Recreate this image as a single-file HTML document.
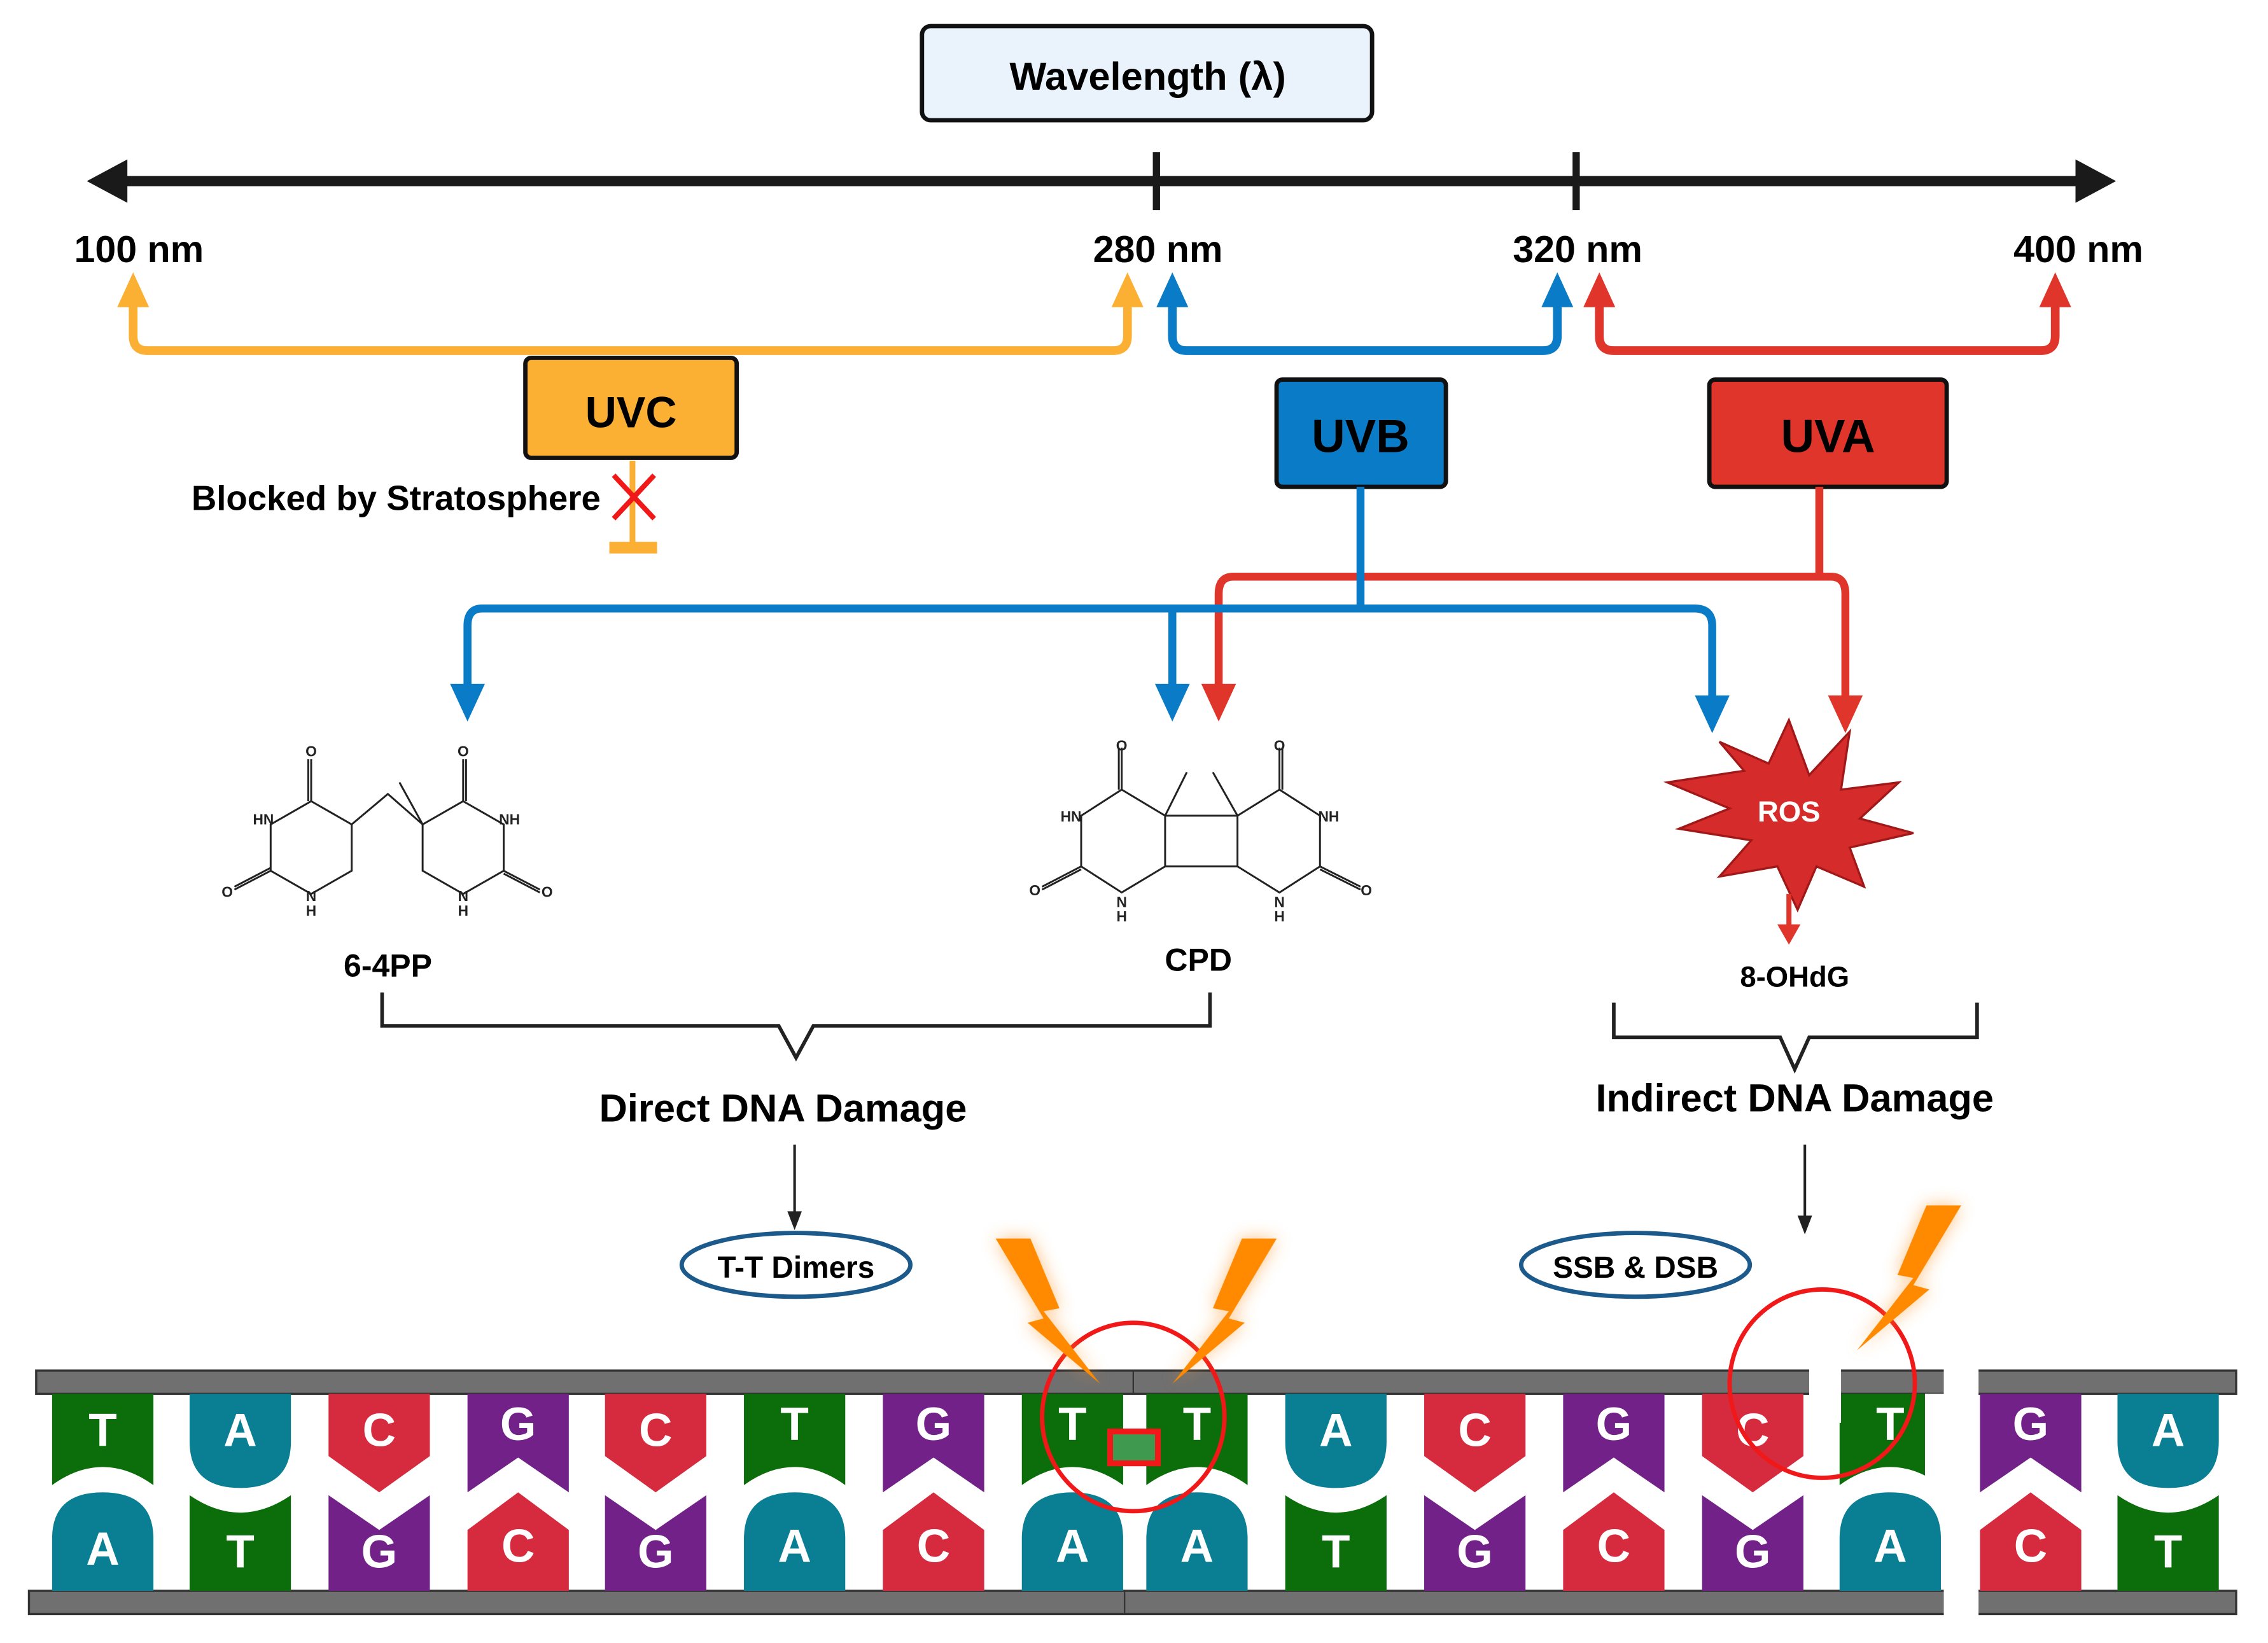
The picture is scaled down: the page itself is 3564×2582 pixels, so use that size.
<!DOCTYPE html>
<html><head><meta charset="utf-8"><style>
html,body{margin:0;padding:0;background:#fff}
svg{display:block}
text{font-family:"Liberation Sans",sans-serif;font-weight:bold}
</style></head><body>
<svg width="3564" height="2582" viewBox="0 0 1567 1134" preserveAspectRatio="none" xmlns="http://www.w3.org/2000/svg">
<defs>
<path id="tT" d="M-35,962H35V1025Q0,1000 -35,1025Z"/>
<path id="tA" d="M-35,962H35V995Q35,1027 0,1027Q-35,1027 -35,995Z"/>
<path id="tC" d="M-35,962H35V1005L0,1030L-35,1005Z"/>
<path id="tG" d="M-35,962H35V1030L0,1006L-35,1030Z"/>
<path id="bA" d="M-35,1098V1062Q-35,1030 0,1030Q35,1030 35,1062V1098Z"/>
<path id="bT" d="M-35,1098V1032Q0,1056 35,1032V1098Z"/>
<path id="bG" d="M-35,1098V1032L0,1056L35,1032V1098Z"/>
<path id="bC" d="M-35,1098V1056L0,1030L35,1056V1098Z"/>
<path id="bolt" d="M0,0L24,0L44,48L33,50L72,100L22,58L33,55Z"/>
<filter id="glow" x="-50%" y="-50%" width="200%" height="200%"><feGaussianBlur stdDeviation="6"/></filter>
</defs>

<rect x="637" y="18" width="311" height="65" rx="6" fill="#eaf3fb" stroke="#111" stroke-width="3"/>
<text x="793" y="62" font-size="27" text-anchor="middle">Wavelength (λ)</text>

<line x1="80" y1="125" x2="1440" y2="125" stroke="#1a1a1a" stroke-width="7"/>
<polygon points="60,125 88,110 88,140" fill="#1a1a1a"/>
<polygon points="1462,125 1434,110 1434,140" fill="#1a1a1a"/>
<line x1="799" y1="105" x2="799" y2="145" stroke="#1a1a1a" stroke-width="5"/>
<line x1="1089" y1="105" x2="1089" y2="145" stroke="#1a1a1a" stroke-width="5"/>
<g font-size="26" text-anchor="middle">
<text x="96" y="181">100 nm</text>
<text x="800" y="181">280 nm</text>
<text x="1090" y="181">320 nm</text>
<text x="1436" y="181">400 nm</text>
</g>

<path d="M92,206V232Q92,242 102,242H769Q779,242 779,232V206" fill="none" stroke="#fbb034" stroke-width="6"/>
<polygon points="92,188 81,212 103,212" fill="#fbb034"/>
<polygon points="779,188 768,212 790,212" fill="#fbb034"/>
<path d="M810,206V232Q810,242 820,242H1066Q1076,242 1076,232V206" fill="none" stroke="#0a7bc6" stroke-width="6"/>
<polygon points="810,188 799,212 821,212" fill="#0a7bc6"/>
<polygon points="1076,188 1065,212 1087,212" fill="#0a7bc6"/>
<path d="M1105,206V232Q1105,242 1115,242H1410Q1420,242 1420,232V206" fill="none" stroke="#e0352b" stroke-width="6"/>
<polygon points="1105,188 1094,212 1116,212" fill="#e0352b"/>
<polygon points="1420,188 1409,212 1431,212" fill="#e0352b"/>

<rect x="363" y="247" width="146" height="69" rx="4" fill="#fbb034" stroke="#111" stroke-width="3"/>
<text x="436" y="295" font-size="30" text-anchor="middle">UVC</text>
<rect x="882" y="262" width="117" height="74" rx="4" fill="#0a7bc6" stroke="#111" stroke-width="3"/>
<text x="940" y="312" font-size="32" text-anchor="middle">UVB</text>
<rect x="1181" y="262" width="164" height="74" rx="4" fill="#e0352b" stroke="#111" stroke-width="3"/>
<text x="1263" y="312" font-size="32" text-anchor="middle">UVA</text>

<line x1="437" y1="318" x2="437" y2="376" stroke="#fbb034" stroke-width="4"/>
<rect x="421" y="374" width="33" height="8" fill="#fbb034"/>
<path d="M424,328L452,358M452,328L424,358" stroke="#f01818" stroke-width="3.5"/>
<text x="415" y="352" font-size="24" text-anchor="end">Blocked by Stratosphere</text>

<path d="M1257,336V398H852Q842,398 842,410V478M1257,398H1265Q1275,398 1275,410V485" fill="none" stroke="#e0352b" stroke-width="5.5"/>
<polygon points="842,498 830,472 854,472" fill="#e0352b"/>
<polygon points="1275,506 1263,480 1287,480" fill="#e0352b"/>
<path d="M940,336V420M333,420H1171Q1183,420 1183,432V485M333,420Q323,420 323,432V478M810,420V478" fill="none" stroke="#0a7bc6" stroke-width="5.5"/>
<polygon points="323,498 311,472 335,472" fill="#0a7bc6"/>
<polygon points="810,498 798,472 822,472" fill="#0a7bc6"/>
<polygon points="1183,506 1171,480 1195,480" fill="#0a7bc6"/>

<g fill="none" stroke="#222" stroke-width="1.3">
<path d="M215,553L243,569V601L215,617L187,601V569Z"/>
<path d="M320,553L348,569V601L320,617L292,601V569Z"/>
<path d="M215,553V524M213,553V524M243,569L268,548L292,569M292,569L276,540M320,553V524M322,553V524M187,601L162,614M187,599L162,612M348,601L373,614M348,603L373,616"/>
</g>
<g font-size="10" fill="#222" text-anchor="middle" style="font-weight:normal">
<text x="215" y="522">O</text><text x="320" y="522">O</text>
<text x="182" y="569">HN</text><text x="352" y="569">NH</text>
<text x="157" y="619">O</text><text x="378" y="619">O</text>
<text x="215" y="622">N</text><text x="215" y="632">H</text>
<text x="320" y="622">N</text><text x="320" y="632">H</text>
</g>

<g fill="none" stroke="#222" stroke-width="1.3">
<path d="M775,545L805,563V598L775,616L747,598V563Z"/>
<path d="M884,545L855,563V598L884,616L912,598V563Z"/>
<path d="M805,563H855M805,598H855M805,563L820,533M855,563L838,533M775,545V516M773,545V516M884,545V516M886,545V516M747,598L720,612M747,600L720,614M912,598L940,612M912,600L940,614"/>
</g>
<g font-size="10" fill="#222" text-anchor="middle" style="font-weight:normal">
<text x="775" y="518">O</text><text x="884" y="518">O</text>
<text x="740" y="567">HN</text><text x="918" y="567">NH</text>
<text x="715" y="618">O</text><text x="944" y="618">O</text>
<text x="775" y="626">N</text><text x="775" y="636">H</text>
<text x="884" y="626">N</text><text x="884" y="636">H</text>
</g>

<polygon points="1236,497 1250,535 1278,505 1272,545 1312,540 1285,565 1322,575 1278,585 1288,612 1255,598 1242,628 1228,598 1188,605 1210,580 1160,572 1195,558 1152,540 1205,532 1188,512 1222,527" fill="#d62b2b" stroke="#a01818" stroke-width="1.5"/>
<text x="1236" y="567" font-size="20" fill="#fff" text-anchor="middle">ROS</text>
<line x1="1236" y1="617" x2="1236" y2="640" stroke="#e0352b" stroke-width="3.5"/>
<polygon points="1236,652 1228,638 1244,638" fill="#e0352b"/>
<text x="1240" y="681" font-size="20" text-anchor="middle">8-OHdG</text>

<text x="268" y="674" font-size="22" text-anchor="middle">6-4PP</text>
<text x="828" y="670" font-size="22" text-anchor="middle">CPD</text>

<path d="M264,685V708H538L550,730L562,708H836V685" fill="none" stroke="#222" stroke-width="2.5"/>
<path d="M1115,692V716H1230L1240,738L1250,716H1366V692" fill="none" stroke="#222" stroke-width="2.5"/>
<text x="541" y="774" font-size="27" text-anchor="middle">Direct DNA Damage</text>
<text x="1240" y="767" font-size="27" text-anchor="middle">Indirect DNA Damage</text>

<line x1="549" y1="790" x2="549" y2="838" stroke="#222" stroke-width="1.8"/>
<polygon points="549,849 544,836 554,836" fill="#222"/>
<line x1="1247" y1="790" x2="1247" y2="840" stroke="#222" stroke-width="1.8"/>
<polygon points="1247,852 1242,839 1252,839" fill="#222"/>

<ellipse cx="550" cy="873" rx="79" ry="22" fill="#fff" stroke="#1d5a8c" stroke-width="3"/>
<text x="550" y="882" font-size="21" text-anchor="middle">T-T Dimers</text>
<ellipse cx="1130" cy="873" rx="79" ry="22" fill="#fff" stroke="#1d5a8c" stroke-width="3"/>
<text x="1130" y="882" font-size="21" text-anchor="middle">SSB &amp; DSB</text>

<rect x="25" y="946" width="1520" height="16" fill="#707070" stroke="#333" stroke-width="1.5"/>
<rect x="20" y="1098" width="1525" height="16" fill="#707070" stroke="#333" stroke-width="1.5"/>
<line x1="783" y1="946" x2="783" y2="962" stroke="#333" stroke-width="1"/>
<line x1="777" y1="1098" x2="777" y2="1114" stroke="#333" stroke-width="1"/>

<g>
<use href="#tT" x="71" fill="#0b6e0b"/><use href="#tA" x="166" fill="#0a7f94"/><use href="#tC" x="262" fill="#d62b3e"/><use href="#tG" x="358" fill="#722188"/>
<use href="#tC" x="453" fill="#d62b3e"/><use href="#tT" x="549" fill="#0b6e0b"/><use href="#tG" x="645" fill="#722188"/><use href="#tT" x="741" fill="#0b6e0b"/>
<use href="#tT" x="827" fill="#0b6e0b"/><use href="#tA" x="923" fill="#0a7f94"/><use href="#tC" x="1019" fill="#d62b3e"/><use href="#tG" x="1115" fill="#722188"/>
<use href="#tC" x="1211" fill="#d62b3e"/><use href="#tT" x="1306" fill="#0b6e0b"/><use href="#tG" x="1403" fill="#722188"/><use href="#tA" x="1498" fill="#0a7f94"/>
<use href="#bA" x="71" fill="#0a7f94"/><use href="#bT" x="166" fill="#0b6e0b"/><use href="#bG" x="262" fill="#722188"/><use href="#bC" x="358" fill="#d62b3e"/>
<use href="#bG" x="453" fill="#722188"/><use href="#bA" x="549" fill="#0a7f94"/><use href="#bC" x="645" fill="#d62b3e"/><use href="#bA" x="741" fill="#0a7f94"/>
<use href="#bA" x="827" fill="#0a7f94"/><use href="#bT" x="923" fill="#0b6e0b"/><use href="#bG" x="1019" fill="#722188"/><use href="#bC" x="1115" fill="#d62b3e"/>
<use href="#bG" x="1211" fill="#722188"/><use href="#bA" x="1306" fill="#0a7f94"/><use href="#bC" x="1403" fill="#d62b3e"/><use href="#bT" x="1498" fill="#0b6e0b"/>
</g>
<g font-size="32" fill="#fff" text-anchor="middle" style="font-weight:normal">
<text x="71" y="998">T</text><text x="166" y="998">A</text><text x="262" y="998">C</text><text x="358" y="994">G</text>
<text x="453" y="998">C</text><text x="549" y="994">T</text><text x="645" y="994">G</text><text x="741" y="994">T</text>
<text x="827" y="994">T</text><text x="923" y="998">A</text><text x="1019" y="998">C</text><text x="1115" y="994">G</text>
<text x="1211" y="998">C</text><text x="1306" y="994">T</text><text x="1403" y="994">G</text><text x="1498" y="998">A</text>
<text x="71" y="1080">A</text><text x="166" y="1082">T</text><text x="262" y="1082">G</text><text x="358" y="1078">C</text>
<text x="453" y="1082">G</text><text x="549" y="1078">A</text><text x="645" y="1078">C</text><text x="741" y="1078">A</text>
<text x="827" y="1078">A</text><text x="923" y="1082">T</text><text x="1019" y="1082">G</text><text x="1115" y="1078">C</text>
<text x="1211" y="1082">G</text><text x="1306" y="1078">A</text><text x="1403" y="1078">C</text><text x="1498" y="1082">T</text>
</g>

<rect x="1250" y="944" width="22" height="38" fill="#fff"/>
<rect x="1343" y="944" width="24" height="172" fill="#fff"/>
<rect x="1330" y="962" width="14" height="70" fill="#fff"/>

<rect x="767" y="988" width="33" height="22" fill="#3f9a4f" stroke="#f01818" stroke-width="4"/>
<ellipse cx="783" cy="978" rx="63" ry="65" fill="none" stroke="#f01818" stroke-width="3"/>
<ellipse cx="1259" cy="955" rx="64" ry="65" fill="none" stroke="#f01818" stroke-width="3"/>

<g fill="#ff9a30" opacity="0.6" filter="url(#glow)">
<use href="#bolt" transform="translate(688,855)"/>
<use href="#bolt" transform="translate(882,855) scale(-1,1)"/>
<use href="#bolt" transform="translate(1355,832) scale(-1,1)"/>
</g>
<g fill="#ff8a00">
<use href="#bolt" transform="translate(688,855)"/>
<use href="#bolt" transform="translate(882,855) scale(-1,1)"/>
<use href="#bolt" transform="translate(1355,832) scale(-1,1)"/>
</g>
</svg>
</body></html>
